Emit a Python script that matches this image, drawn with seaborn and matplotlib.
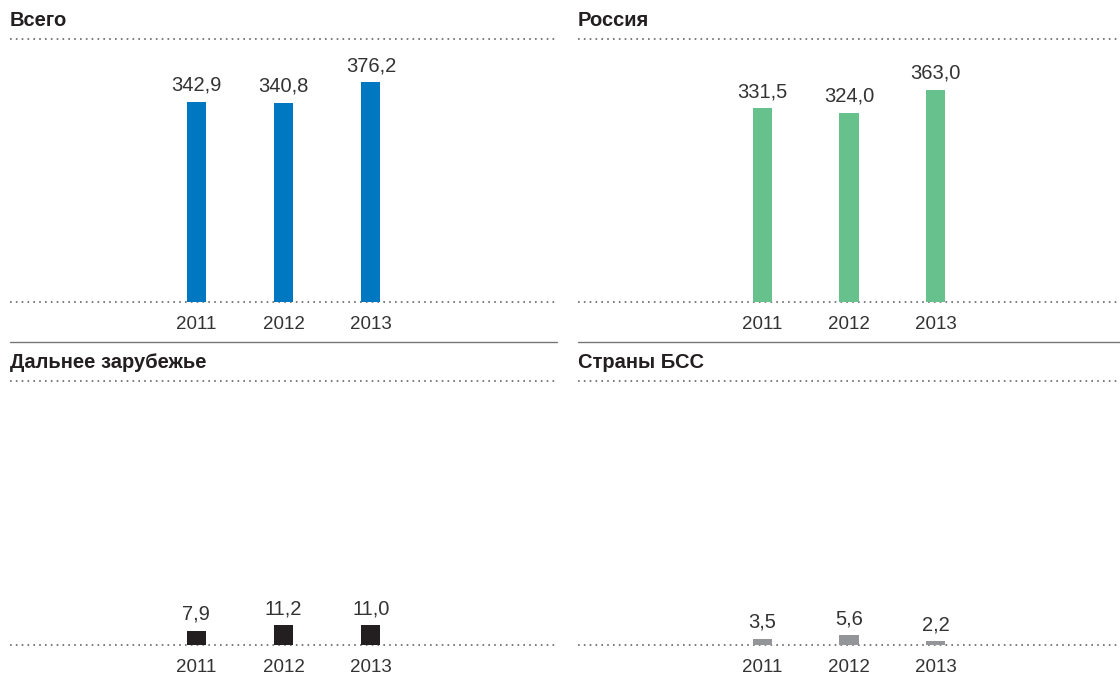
import matplotlib
matplotlib.use("Agg")
import matplotlib.pyplot as plt
from matplotlib.lines import Line2D
import seaborn as sns
import pandas as pd

# data
years = ["2011", "2012", "2013"]
total = [342.9, 340.8, 376.2]
russia = [331.5, 324.0, 363.0]
far_abroad = [7.9, 11.2, 11.0]
cis = [3.5, 5.6, 2.2]

titles = ["Всего", "Россия", "Дальнее зарубежье", "Страны БСС"]
colors = ["#0077c1", "#66c18c", "#231f20", "#939598"]

sns.set_theme(style="white")
plt.rcParams["font.family"] = ["Liberation Sans", "DejaVu Sans"]

W, H = 1120, 679
fig = plt.figure(figsize=(W / 100, H / 100), dpi=100)


def fx(px):
    return px / W


def fy(py):
    return 1 - py / H


# (left, right, top, bottom) in pixels
boxes = [(10, 557, 39, 302), (578, 1120, 39, 302),
         (10, 557, 381, 645), (578, 1120, 381, 645)]
ylims = [450, 450, 148, 148]
series = [total, russia, far_abroad, cis]

for (l, r, t, b), vals, title, col, ymax in zip(boxes, series, titles, colors, ylims):
    ax = fig.add_axes([fx(l), fy(b), fx(r - l), fy(t) - fy(b)])
    df = pd.DataFrame({"year": years, "value": vals})
    sns.barplot(data=df, x="year", y="value", color=col, width=0.22,
                saturation=1, ax=ax, linewidth=0)
    ax.set_xlim(-2.13, 4.13)
    ax.set_ylim(0, ymax)
    for s in ax.spines.values():
        s.set_visible(False)
    ax.set_yticks([])
    ax.set_xlabel("")
    ax.set_ylabel("")
    ax.tick_params(axis="x", length=0, pad=10, labelsize=13.5, labelcolor="#333333")
    dot = dict(color="#666666", linewidth=1.2, linestyle=(0, (1, 2.5)),
               clip_on=False, zorder=0)
    ax.axhline(0, **dot)
    ax.axhline(ymax, **dot)
    ax.bar_label(ax.containers[0],
                 labels=[f"{v:.1f}".replace(".", ",") for v in vals],
                 padding=5, fontsize=14.5, color="#333333")
    fig.text(fx(l), fy(t - 19), title, fontsize=14.5, fontweight="bold",
             color="#231f20", va="center", ha="left")

# separator lines between rows
for x0, x1 in [(10, 557), (578, 1120)]:
    fig.add_artist(Line2D([fx(x0), fx(x1)], [fy(342), fy(342)],
                          color="#777777", linewidth=1))

fig.savefig("out.png", dpi=100)
